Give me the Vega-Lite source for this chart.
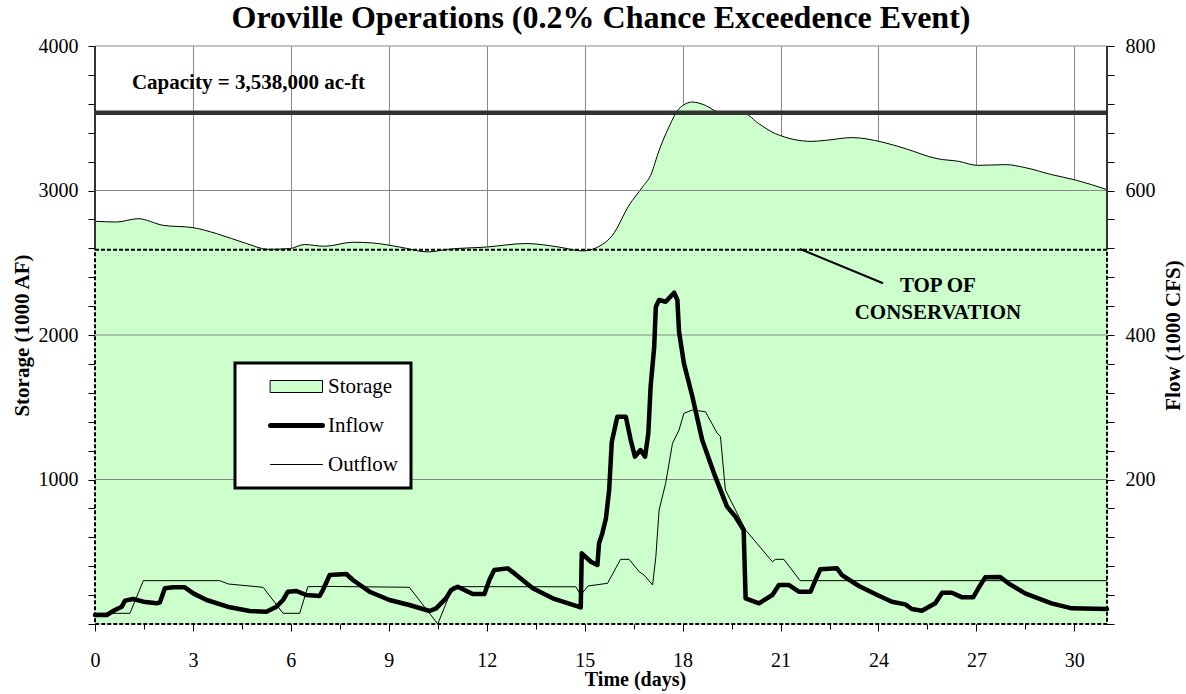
{
  "$schema": "https://vega.github.io/schema/vega-lite/v6.json",
  "width": 1012,
  "height": 578,
  "autosize": "none",
  "padding": {"left": 95, "top": 46, "right": 79, "bottom": 70},
  "background": "white",
  "config": {"view": {"stroke": null}, "font": "Liberation Serif", "axis": {"labelOverlap": false}},
  "title": {
    "text": "Oroville Operations (0.2% Chance Exceedence Event)",
    "font": "Liberation Serif",
    "fontSize": 32,
    "fontWeight": "bold",
    "color": "black",
    "anchor": "middle",
    "frame": "group",
    "offset": 1,
    "dy": 0
  },
  "datasets": {
    "storage": [
      {"day": 0, "storage": 2787}, {"day": 0.66, "storage": 2782}, {"day": 1.32, "storage": 2805},
      {"day": 2.09, "storage": 2759}, {"day": 3.0, "storage": 2743}, {"day": 3.72, "storage": 2702},
      {"day": 4.64, "storage": 2633}, {"day": 5.3, "storage": 2593}, {"day": 5.96, "storage": 2598},
      {"day": 6.42, "storage": 2626}, {"day": 7.03, "storage": 2614}, {"day": 7.9, "storage": 2642},
      {"day": 8.5, "storage": 2637}, {"day": 9.33, "storage": 2609}, {"day": 10.2, "storage": 2575},
      {"day": 10.8, "storage": 2593}, {"day": 12.0, "storage": 2609}, {"day": 13.2, "storage": 2633},
      {"day": 14.2, "storage": 2609}, {"day": 14.93, "storage": 2582}, {"day": 15.55, "storage": 2628},
      {"day": 15.85, "storage": 2690}, {"day": 16.36, "storage": 2898}, {"day": 16.77, "storage": 3024},
      {"day": 17.02, "storage": 3105}, {"day": 17.28, "storage": 3278}, {"day": 17.58, "storage": 3439},
      {"day": 17.89, "storage": 3566}, {"day": 18.3, "storage": 3612}, {"day": 18.7, "storage": 3589},
      {"day": 19.1, "storage": 3543}, {"day": 19.9, "storage": 3532}, {"day": 20.33, "storage": 3463},
      {"day": 20.84, "storage": 3394}, {"day": 21.96, "storage": 3340}, {"day": 22.37, "storage": 3347},
      {"day": 23.19, "storage": 3366}, {"day": 24.1, "storage": 3336}, {"day": 24.82, "storage": 3290},
      {"day": 25.8, "storage": 3220}, {"day": 26.45, "storage": 3202}, {"day": 27.04, "storage": 3174},
      {"day": 27.9, "storage": 3179}, {"day": 28.5, "storage": 3158}, {"day": 29.3, "storage": 3110},
      {"day": 30.06, "storage": 3071}, {"day": 31, "storage": 3006}
    ],
    "inflow": [
      {"day": 0, "flow": 12.5}, {"day": 0.36, "flow": 12.5}, {"day": 0.61, "flow": 19.4}, {"day": 0.82, "flow": 24},
      {"day": 0.92, "flow": 32.3}, {"day": 1.17, "flow": 34.6}, {"day": 1.48, "flow": 30.9}, {"day": 1.89, "flow": 28.6},
      {"day": 1.99, "flow": 30}, {"day": 2.14, "flow": 49.4}, {"day": 2.4, "flow": 50.8}, {"day": 2.75, "flow": 50.8},
      {"day": 3.01, "flow": 42.4}, {"day": 3.42, "flow": 33.2}, {"day": 4.13, "flow": 23.1}, {"day": 4.74, "flow": 18},
      {"day": 5.25, "flow": 17}, {"day": 5.56, "flow": 24}, {"day": 5.76, "flow": 33.2}, {"day": 5.91, "flow": 44.7},
      {"day": 6.17, "flow": 45.7}, {"day": 6.47, "flow": 40.1}, {"day": 6.88, "flow": 38.8}, {"day": 6.98, "flow": 47},
      {"day": 7.19, "flow": 67.8}, {"day": 7.7, "flow": 69.2}, {"day": 7.9, "flow": 60.9}, {"day": 8.41, "flow": 44.7},
      {"day": 9.02, "flow": 33.2}, {"day": 9.63, "flow": 26.3}, {"day": 10.25, "flow": 18}, {"day": 10.45, "flow": 21.7},
      {"day": 10.75, "flow": 35.5}, {"day": 10.91, "flow": 47}, {"day": 11.11, "flow": 51.7}, {"day": 11.57, "flow": 41.5},
      {"day": 11.93, "flow": 41.5}, {"day": 12.08, "flow": 60.9}, {"day": 12.23, "flow": 74.7}, {"day": 12.64, "flow": 77},
      {"day": 12.85, "flow": 70}, {"day": 13.41, "flow": 49.4}, {"day": 14.02, "flow": 35.5}, {"day": 14.88, "flow": 23},
      {"day": 14.91, "flow": 97.8}, {"day": 15.19, "flow": 86.2}, {"day": 15.39, "flow": 81.7}, {"day": 15.44, "flow": 111.7},
      {"day": 15.54, "flow": 125.5}, {"day": 15.65, "flow": 146}, {"day": 15.75, "flow": 185.5}, {"day": 15.83, "flow": 252},
      {"day": 16.0, "flow": 287}, {"day": 16.26, "flow": 287}, {"day": 16.41, "flow": 254.7}, {"day": 16.54, "flow": 231.6},
      {"day": 16.71, "flow": 240.8}, {"day": 16.85, "flow": 231.6}, {"day": 16.95, "flow": 264}, {"day": 17.02, "flow": 328.5},
      {"day": 17.13, "flow": 383.8}, {"day": 17.18, "flow": 439.2}, {"day": 17.28, "flow": 448.4}, {"day": 17.48, "flow": 446},
      {"day": 17.74, "flow": 458.6}, {"day": 17.84, "flow": 448.4}, {"day": 17.89, "flow": 404.6}, {"day": 18.04, "flow": 360.8},
      {"day": 18.3, "flow": 314.6}, {"day": 18.6, "flow": 254.7}, {"day": 19.0, "flow": 203.9}, {"day": 19.36, "flow": 162.4},
      {"day": 19.62, "flow": 148.5}, {"day": 19.87, "flow": 130.1}, {"day": 19.93, "flow": 35.5}, {"day": 20.34, "flow": 28.6},
      {"day": 20.75, "flow": 40.1}, {"day": 20.95, "flow": 54}, {"day": 21.25, "flow": 54}, {"day": 21.56, "flow": 44.7},
      {"day": 21.92, "flow": 44.7}, {"day": 22.07, "flow": 60.9}, {"day": 22.22, "flow": 75.7}, {"day": 22.73, "flow": 77},
      {"day": 22.88, "flow": 67.8}, {"day": 23.4, "flow": 52.6}, {"day": 23.9, "flow": 41.5}, {"day": 24.41, "flow": 30.9},
      {"day": 24.82, "flow": 27.2}, {"day": 25.02, "flow": 20.8}, {"day": 25.33, "flow": 18.4}, {"day": 25.74, "flow": 28.6},
      {"day": 25.95, "flow": 43.3}, {"day": 26.25, "flow": 43.3}, {"day": 26.56, "flow": 36.9}, {"day": 26.9, "flow": 37},
      {"day": 27.06, "flow": 49.4}, {"day": 27.27, "flow": 64.6}, {"day": 27.73, "flow": 65}, {"day": 27.98, "flow": 56.3},
      {"day": 28.49, "flow": 42.4}, {"day": 29.3, "flow": 28.6}, {"day": 29.92, "flow": 21.7}, {"day": 31, "flow": 20.8}
    ],
    "outflow": [
      {"day": 0, "flow": 14.8}, {"day": 1.07, "flow": 14.8}, {"day": 1.48, "flow": 60}, {"day": 3.82, "flow": 60},
      {"day": 4.08, "flow": 55.4}, {"day": 5.15, "flow": 50.8}, {"day": 5.76, "flow": 14.8}, {"day": 6.27, "flow": 14.8},
      {"day": 6.52, "flow": 51.7}, {"day": 7.19, "flow": 52}, {"day": 9.63, "flow": 50.8}, {"day": 10.5, "flow": 0},
      {"day": 10.96, "flow": 51.7}, {"day": 14.73, "flow": 51.5}, {"day": 14.88, "flow": 40.1}, {"day": 15.1, "flow": 52.6},
      {"day": 15.7, "flow": 56.3}, {"day": 16.1, "flow": 89.5}, {"day": 16.36, "flow": 89.5}, {"day": 16.67, "flow": 72.4},
      {"day": 16.82, "flow": 67.8}, {"day": 17.08, "flow": 54}, {"day": 17.18, "flow": 93.2}, {"day": 17.28, "flow": 157.8},
      {"day": 17.48, "flow": 194.7}, {"day": 17.69, "flow": 250}, {"day": 17.89, "flow": 268.5}, {"day": 18.04, "flow": 291.6},
      {"day": 18.3, "flow": 296.2}, {"day": 18.7, "flow": 293.8}, {"day": 19.06, "flow": 264}, {"day": 19.16, "flow": 259.3},
      {"day": 19.31, "flow": 185.5}, {"day": 19.93, "flow": 130.1}, {"day": 20.75, "flow": 86.2}, {"day": 20.85, "flow": 89.5},
      {"day": 21.1, "flow": 89.5}, {"day": 21.6, "flow": 60}, {"day": 31, "flow": 60}
    ],
    "gridlevels": [{"level": 1000}, {"level": 2000}, {"level": 3000}, {"level": 4000}],
    "one": [{}]
  },
  "layer": [
    {
      "layer": [
        {
          "data": {"name": "storage"},
          "mark": {"type": "area", "interpolate": "monotone", "color": "#ccffcc", "opacity": 1},
          "encoding": {
            "x": {
              "field": "day", "type": "quantitative",
              "scale": {"domain": [0, 31], "nice": false, "zero": false},
              "axis": {
                "values": [0, 1.5, 3, 4.5, 6, 7.5, 9, 10.5, 12, 13.5, 15, 16.5, 18, 19.5, 21, 22.5, 24, 25.5, 27, 28.5, 30],
                "tickCount": 40,
                "labelExpr": "datum.value % 3 === 0 ? datum.label : ''",
                "labelFont": "Liberation Serif", "labelFontSize": 20, "labelColor": "black",
                "labelPadding": 19, "labelFlush": false, "labelOverlap": false,
                "domain": false,
                "ticks": true, "tickColor": "black", "tickWidth": 1,
                "tickSize": {"condition": {"test": "datum.value % 3 === 0", "value": 7}, "value": 5},
                "grid": true, "gridColor": "#888888", "gridWidth": 1,
                "gridOpacity": {"condition": {"test": "datum.value % 3 === 0 && datum.value > 0", "value": 1}, "value": 0},
                "title": "Time (days)", "titleFont": "Liberation Serif", "titleFontSize": 20,
                "titleFontWeight": "bold", "titleColor": "black",
                "titleX": 540, "titleY": 61, "titleBaseline": "alphabetic", "titleAnchor": "middle"
              }
            },
            "y": {
              "field": "storage", "type": "quantitative",
              "scale": {"domain": [0, 4000], "nice": false},
              "axis": {
                "values": [0, 200, 400, 600, 800, 1000, 1200, 1400, 1600, 1800, 2000, 2200, 2400, 2600, 2800, 3000, 3200, 3400, 3600, 3800, 4000],
                "tickCount": 40,
                "labelExpr": "datum.value % 1000 === 0 && datum.value > 0 ? datum.label : ''",
                "format": "d", "labelOverlap": false, "labelFlush": false,
                "labelFont": "Liberation Serif", "labelColor": "black", "labelPadding": 10, "labelFontSize": 20,
                "domain": false, "grid": false,
                "tickColor": "black", "tickSize": 7, "tickWidth": 1,
                "title": "Storage (1000 AF)", "titleFont": "Liberation Serif", "titleFontSize": 21,
                "titleFontWeight": "bold", "titleColor": "black", "titlePadding": 6
              }
            }
          }
        },
        {
          "data": {"name": "storage"},
          "mark": {"type": "line", "interpolate": "monotone", "color": "black", "strokeWidth": 1},
          "encoding": {
            "x": {"field": "day", "type": "quantitative"},
            "y": {"field": "storage", "type": "quantitative"}
          }
        },
        {
          "data": {"name": "gridlevels"},
          "mark": {"type": "rule", "color": "#888888", "strokeWidth": 1},
          "encoding": {
            "y": {"field": "level", "type": "quantitative"}
          }
        },
        {
          "data": {"name": "one"},
          "mark": {"type": "rule", "color": "#333333", "strokeWidth": 2},
          "encoding": {
            "x": {"datum": 0, "type": "quantitative"},
            "y": {"datum": 2590, "type": "quantitative"},
            "y2": {"datum": 4000}
          }
        },
        {
          "data": {"name": "one"},
          "mark": {"type": "rule", "color": "#333333", "strokeWidth": 2},
          "encoding": {
            "x": {"datum": 31, "type": "quantitative"},
            "y": {"datum": 2590, "type": "quantitative"},
            "y2": {"datum": 4000}
          }
        },
        {
          "data": {"name": "one"},
          "mark": {"type": "rect", "fill": null, "fillOpacity": 0, "stroke": "black", "strokeWidth": 2, "strokeDash": [4, 2]},
          "encoding": {
            "x": {"datum": 0, "type": "quantitative"},
            "x2": {"datum": 31},
            "y": {"datum": 0, "type": "quantitative"},
            "y2": {"datum": 2590}
          }
        },
        {
          "data": {"name": "one"},
          "mark": {"type": "rule", "color": "#333333", "strokeWidth": 4.5},
          "encoding": {
            "x": {"datum": 0, "type": "quantitative"},
            "x2": {"datum": 31},
            "y": {"datum": 3538, "type": "quantitative"}
          }
        },
        {
          "data": {"name": "one"},
          "mark": {"type": "text", "font": "Liberation Serif", "fontSize": 21, "fontWeight": "bold", "color": "black", "align": "center", "baseline": "middle"},
          "encoding": {
            "x": {"datum": 4.7, "type": "quantitative"},
            "y": {"datum": 3747, "type": "quantitative"},
            "text": {"value": "Capacity = 3,538,000 ac-ft"}
          }
        },
        {
          "data": {"name": "one"},
          "mark": {"type": "rule", "color": "black", "strokeWidth": 2},
          "encoding": {
            "x": {"datum": 21.6, "type": "quantitative"},
            "x2": {"datum": 24.14},
            "y": {"datum": 2595, "type": "quantitative"},
            "y2": {"datum": 2358}
          }
        },
        {
          "data": {"name": "one"},
          "mark": {"type": "text", "font": "Liberation Serif", "fontSize": 21, "fontWeight": "bold", "color": "black", "align": "center", "baseline": "middle", "lineHeight": 27},
          "encoding": {
            "x": {"datum": 25.82, "type": "quantitative"},
            "y": {"datum": 2340, "type": "quantitative"},
            "text": {"value": ["TOP OF", "CONSERVATION"]}
          }
        }
      ]
    },
    {
      "layer": [
        {
          "data": {"name": "outflow"},
          "mark": {"type": "line", "strokeWidth": 1},
          "encoding": {
            "x": {"field": "day", "type": "quantitative"},
            "y": {"field": "flow", "type": "quantitative", "scale": {"domain": [0, 800], "nice": false}},
            "color": {
              "datum": "Outflow", "type": "nominal",
              "scale": {"domain": ["Storage", "Inflow", "Outflow"], "range": ["#000000", "#000000", "#000000"]},
              "legend": {
                "orient": "none", "legendX": 140, "legendY": 317,
                "title": null,
                "fillColor": "white", "strokeColor": "black",
                "padding": 13,
                "labelFont": "Liberation Serif", "labelFontSize": 21, "labelColor": "black",
                "symbolType": "stroke",
                "symbolSize": 100, "symbolOffset": 38, "labelOffset": 21, "rowPadding": 17,
                "encode": {
                  "legend": {"update": {"strokeWidth": {"value": 3}}},
                  "symbols": {"update": {
                    "shape": {"signal": "datum.value === 'Storage' ? 'M-5.2,-1.2H5.2V1.2H-5.2Z' : 'M-5.2,0H5.2'"},
                    "fill": {"signal": "datum.value === 'Storage' ? '#ccffcc' : 'transparent'"},
                    "stroke": {"value": "black"},
                    "strokeWidth": {"signal": "datum.value === 'Inflow' ? 5 : 1"},
                    "strokeCap": {"value": "round"},
                    "opacity": {"value": 1}
                  }}
                }
              }
            }
          }
        },
        {
          "data": {"name": "inflow"},
          "mark": {"type": "line", "strokeWidth": 4.5, "strokeJoin": "round", "strokeCap": "round"},
          "encoding": {
            "x": {"field": "day", "type": "quantitative"},
            "y": {
              "field": "flow", "type": "quantitative",
              "scale": {"domain": [0, 800], "nice": false},
              "axis": {
                "orient": "right",
                "values": [0, 40, 80, 120, 160, 200, 240, 280, 320, 360, 400, 440, 480, 520, 560, 600, 640, 680, 720, 760, 800],
                "tickCount": 40,
                "labelExpr": "datum.value % 200 === 0 && datum.value > 0 ? datum.label : ''",
                "format": "d", "labelOverlap": false, "labelFlush": false,
                "labelFont": "Liberation Serif", "labelColor": "black", "labelPadding": 11, "labelFontSize": 20,
                "domain": false, "grid": false,
                "tickColor": "black", "tickSize": 7, "tickWidth": 1,
                "title": "Flow (1000 CFS)", "titleFont": "Liberation Serif", "titleFontSize": 21,
                "titleFontWeight": "bold", "titleColor": "black", "titleAngle": 270,
                "titleX": 66, "titleBaseline": "middle"
              }
            },
            "color": {"datum": "Inflow", "type": "nominal"}
          }
        }
      ]
    }
  ],
  "resolve": {"scale": {"y": "independent"}}
}
